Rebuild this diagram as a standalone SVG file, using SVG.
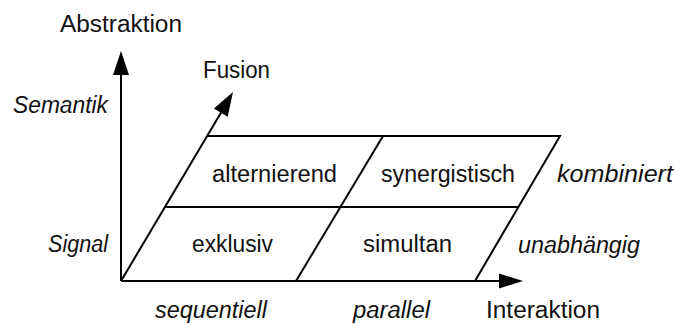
<svg xmlns="http://www.w3.org/2000/svg" width="675" height="324" viewBox="0 0 675 324">
  <style>
    .ln { fill: none; stroke: #000; stroke-width: 2; stroke-linecap: butt; stroke-linejoin: miter; }
    .head { fill: #000; stroke: none; }
    text { font-family: "Liberation Sans", Arial, sans-serif; font-size: 23px; fill: #111; }
    .it { font-style: italic; }
  </style>
  <rect width="675" height="324" fill="#fff"/>

  <!-- axes and grid lines -->
  <g id="connectors">
    <!-- Abstraktion axis -->
    <line class="ln" x1="121" y1="281" x2="121" y2="74"/>
    <polygon class="head" points="121,51 129,75 113,75"/>
    <!-- Fusion axis (also left edge of the plane) -->
    <line class="ln" x1="121" y1="281" x2="222" y2="111"/>
    <polygon class="head" points="233,92 227.7,116.7 213.9,108.5"/>
    <!-- Interaktion axis -->
    <line class="ln" x1="121" y1="281" x2="500" y2="281"/>
    <polygon class="head" points="523,281 499,273.5 499,288.5"/>
    <!-- plane outline and dividers -->
    <polyline class="ln" points="208,136 560,136 475,281"/>
    <line class="ln" x1="165.4" y1="207" x2="518.4" y2="207"/>
    <line class="ln" x1="296" y1="281" x2="383" y2="136"/>
  </g>

  <!-- axis titles -->
  <g id="axis-abstraktion"><text x="60" y="32" textLength="122" lengthAdjust="spacingAndGlyphs">Abstraktion</text></g>
  <g id="axis-fusion"><text x="203" y="78" textLength="67" lengthAdjust="spacingAndGlyphs">Fusion</text></g>
  <g id="axis-interaktion"><text x="486" y="318" textLength="114" lengthAdjust="spacingAndGlyphs">Interaktion</text></g>

  <!-- tick labels -->
  <g id="tick-semantik"><text class="it" x="13" y="113" textLength="95" lengthAdjust="spacingAndGlyphs">Semantik</text></g>
  <g id="tick-signal"><text class="it" x="48" y="252" textLength="60" lengthAdjust="spacingAndGlyphs">Signal</text></g>
  <g id="tick-kombiniert"><text class="it" x="557" y="182" textLength="116" lengthAdjust="spacingAndGlyphs">kombiniert</text></g>
  <g id="tick-unabhaengig"><text class="it" x="518" y="253" textLength="122" lengthAdjust="spacingAndGlyphs">unabhängig</text></g>
  <g id="tick-sequentiell"><text class="it" x="155" y="318" textLength="112" lengthAdjust="spacingAndGlyphs">sequentiell</text></g>
  <g id="tick-parallel"><text class="it" x="353" y="318" textLength="77" lengthAdjust="spacingAndGlyphs">parallel</text></g>

  <!-- cells -->
  <g id="cell-alternierend"><text x="212" y="182" textLength="125" lengthAdjust="spacingAndGlyphs">alternierend</text></g>
  <g id="cell-synergistisch"><text x="381" y="182" textLength="134" lengthAdjust="spacingAndGlyphs">synergistisch</text></g>
  <g id="cell-exklusiv"><text x="192" y="252" textLength="81" lengthAdjust="spacingAndGlyphs">exklusiv</text></g>
  <g id="cell-simultan"><text x="363" y="252" textLength="89" lengthAdjust="spacingAndGlyphs">simultan</text></g>
</svg>
